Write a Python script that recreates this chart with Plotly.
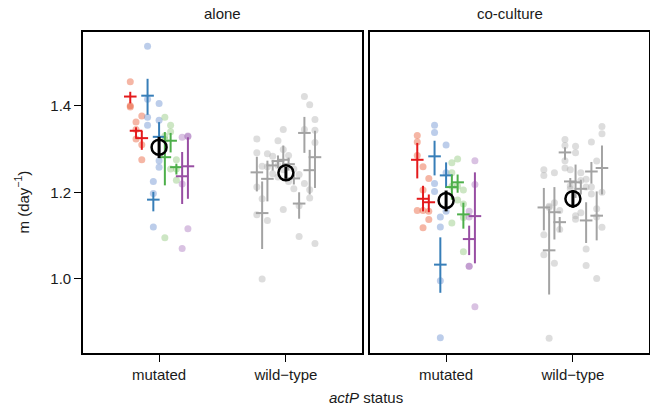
import plotly.graph_objects as go

# ---------------- data ----------------
panels = ["alone", "co-culture"]
group_labels = ["mutated", "wild\u2212type"]

# mutated clones: lineage colour for each clone
mut_lineage = ["red", "red", "red", "blue", "blue", "blue",
               "green", "green", "green", "purple", "purple"]

# --- alone, mutated ---
alone_mut_pts = [
    [1.455, 1.400, 1.397],
    [1.362, 1.345, 1.323],
    [1.376, 1.310, 1.275],
    [1.537, 1.415, 1.373, 1.355],
    [1.225, 1.197, 1.120],
    [1.405, 1.366, 1.273, 1.258],
    [1.373, 1.322, 1.330, 1.095],
    [1.355, 1.340, 1.254],
    [1.275, 1.254, 1.228],
    [1.327, 1.219, 1.070],
    [1.329, 1.330, 1.116],
]
alone_mut_mean = [1.421, 1.342, 1.325, 1.423, 1.183, 1.328, 1.281, 1.319, 1.258, 1.237, 1.260]
alone_mut_lo = [1.405, 1.324, 1.298, 1.379, 1.156, 1.294, 1.216, 1.292, 1.241, 1.173, 1.185]
alone_mut_hi = [1.432, 1.350, 1.342, 1.462, 1.201, 1.362, 1.339, 1.337, 1.266, 1.293, 1.327]

# --- alone, wild-type ---
alone_wt_pts = [
    [1.323, 1.291, 1.212, 1.148],
    [1.260, 1.185, 1.000],
    [1.289, 1.259, 1.135],
    [1.283, 1.243],
    [1.319, 1.262, 1.235],
    [1.345, 1.299, 1.252, 1.160],
    [1.285, 1.225],
    [1.254, 1.208],
    [1.241, 1.169, 1.098],
    [1.421, 1.345, 1.220],
    [1.402, 1.206, 1.187],
    [1.368, 1.343, 1.315, 1.082],
]
alone_wt_mean = [1.246, 1.152, 1.231, 1.262, 1.272, 1.275, 1.265, 1.232, 1.174, 1.337, 1.251, 1.281]
alone_wt_lo = [1.202, 1.069, 1.179, 1.250, 1.256, 1.262, 1.250, 1.218, 1.139, 1.291, 1.195, 1.210]
alone_wt_hi = [1.282, 1.225, 1.273, 1.274, 1.285, 1.308, 1.280, 1.241, 1.200, 1.374, 1.298, 1.342]

# --- co-culture, mutated ---
co_mut_pts = [
    [1.331, 1.316, 1.285, 1.158],
    [1.259, 1.205, 1.158, 1.118],
    [1.232, 1.156, 1.137],
    [1.355, 1.338, 1.220, 1.202],
    [1.143, 1.120, 0.996, 0.864],
    [1.309, 1.245, 1.156],
    [1.268, 1.245, 1.214, 1.129],
    [1.277, 1.214, 1.182],
    [1.205, 1.173, 1.142, 1.063],
    [1.156, 1.143, 1.029, 1.029],
    [1.273, 1.218, 0.936],
]
co_mut_mean = [1.275, 1.185, 1.177, 1.283, 1.033, 1.239, 1.212, 1.223, 1.149, 1.092, 1.145]
co_mut_lo = [1.232, 1.156, 1.154, 1.239, 0.968, 1.210, 1.183, 1.199, 1.116, 1.055, 1.036]
co_mut_hi = [1.314, 1.215, 1.195, 1.319, 1.096, 1.269, 1.241, 1.241, 1.176, 1.123, 1.246]

# --- co-culture, wild-type ---
co_wt_pts = [
    [1.252, 1.239, 1.102, 1.056],
    [1.168, 1.165, 0.863],
    [1.245, 1.176, 1.036],
    [1.158, 1.114],
    [1.322, 1.308, 1.273, 1.256],
    [1.252, 1.215, 1.208],
    [1.306, 1.291, 1.146, 1.138],
    [1.245, 1.227, 1.153],
    [1.230, 1.212, 1.069, 1.031],
    [1.316, 1.212, 1.196],
    [1.272, 1.162, 1.143, 1.001],
    [1.352, 1.335, 1.200, 1.119],
]
co_wt_mean = [1.165, 1.066, 1.154, 1.131, 1.292, 1.225, 1.223, 1.208, 1.135, 1.248, 1.146, 1.256]
co_wt_lo = [1.112, 0.964, 1.091, 1.108, 1.275, 1.212, 1.187, 1.195, 1.083, 1.220, 1.089, 1.195]
co_wt_hi = [1.210, 1.162, 1.212, 1.143, 1.304, 1.233, 1.264, 1.229, 1.177, 1.270, 1.202, 1.308]

# overall means per panel: [mutated, wild-type]
overall_mean = [[1.304, 1.245], [1.181, 1.185]]
overall_lo = [[1.279, 1.231], [1.156, 1.164]]
overall_hi = [[1.328, 1.259], [1.204, 1.205]]

# ---------------- styles ----------------
bar_col = {"red": "#E41A1C", "blue": "#377EB8", "green": "#4DAF4A",
           "purple": "#984EA3", "grey": "#A3A3A3"}
pt_col = {"red": "rgba(232,80,40,0.42)", "blue": "rgba(95,135,205,0.42)",
          "green": "rgba(135,195,115,0.42)", "purple": "rgba(165,110,185,0.42)",
          "grey": "rgba(175,175,175,0.42)"}

FONT = "Liberation Sans, Arial, sans-serif"
DODGE = 0.5

fig = go.Figure()

panel_data = [
    [(alone_mut_pts, alone_mut_mean, alone_mut_lo, alone_mut_hi, mut_lineage),
     (alone_wt_pts, alone_wt_mean, alone_wt_lo, alone_wt_hi, ["grey"] * len(alone_wt_pts))],
    [(co_mut_pts, co_mut_mean, co_mut_lo, co_mut_hi, mut_lineage),
     (co_wt_pts, co_wt_mean, co_wt_lo, co_wt_hi, ["grey"] * len(co_wt_pts))],
]

for p, groups in enumerate(panel_data):
    xa = "x" if p == 0 else "x2"
    ya = "y" if p == 0 else "y2"
    # points
    for g, (pts, mean, lo, hi, cols) in enumerate(groups):
        n = len(pts)
        base = g + 1
        for k in range(n):
            xpos = base + (k - (n - 1) / 2) * DODGE / n
            fig.add_trace(go.Scatter(
                x=[xpos] * len(pts[k]), y=pts[k], mode="markers",
                marker=dict(size=7, color=pt_col[cols[k]], line=dict(width=0)),
                xaxis=xa, yaxis=ya, showlegend=False, hoverinfo="y"))
    # clone means with error bars
    for g, (pts, mean, lo, hi, cols) in enumerate(groups):
        n = len(pts)
        base = g + 1
        for k in range(n):
            xpos = base + (k - (n - 1) / 2) * DODGE / n
            c = bar_col[cols[k]]
            fig.add_trace(go.Scatter(
                x=[xpos], y=[mean[k]], mode="markers",
                marker=dict(symbol="line-ew", size=9, color=c,
                            line=dict(width=2, color=c)),
                error_y=dict(type="data", symmetric=False,
                             array=[hi[k] - mean[k]], arrayminus=[mean[k] - lo[k]],
                             width=0, thickness=2, color=c),
                xaxis=xa, yaxis=ya, showlegend=False, hoverinfo="y"))
    # overall means
    for g in range(2):
        m = overall_mean[p][g]
        fig.add_trace(go.Scatter(
            x=[g + 1], y=[m], mode="markers",
            marker=dict(symbol="circle-open", size=15, color="black",
                        line=dict(width=2.5, color="black")),
            error_y=dict(type="data", symmetric=False,
                         array=[overall_hi[p][g] - m], arrayminus=[m - overall_lo[p][g]],
                         width=0, thickness=3, color="black"),
            xaxis=xa, yaxis=ya, showlegend=False, hoverinfo="y"))

W, H = 650, 410
L, R, T, B = 83, 1, 32, 57
pw = W - L - R
gap = 8
dom_w = (pw - gap) / 2 / pw

axis_common = dict(showline=True, linecolor="black", linewidth=1.6, mirror=True,
                   showgrid=False, zeroline=False, ticks="outside", ticklen=7,
                   tickwidth=1, tickcolor="black",
                   tickfont=dict(family=FONT, size=15, color="#1a1a1a"))

fig.update_layout(
    width=W, height=H,
    margin=dict(l=L, r=R, t=T, b=B, autoexpand=False),
    paper_bgcolor="white", plot_bgcolor="white",
    font=dict(family=FONT, size=15, color="#1a1a1a"),
    xaxis=dict(domain=[0, dom_w], range=[0.4, 2.6], tickvals=[1, 2],
               ticktext=group_labels, anchor="y", **axis_common),
    xaxis2=dict(domain=[1 - dom_w, 1], range=[0.4, 2.6], tickvals=[1, 2],
                ticktext=group_labels, anchor="y2", **axis_common),
    yaxis=dict(domain=[0, 1], range=[0.829, 1.570], tickvals=[1.0, 1.2, 1.4],
               ticktext=["1.0", "1.2", "1.4"], anchor="x", **axis_common),
    yaxis2=dict(domain=[0, 1], range=[0.829, 1.570], matches="y", anchor="x2",
                showticklabels=False, **{k: v for k, v in axis_common.items() if k != "ticks"},
                ticks=""),
)

ph = H - T - B
annots = [
    dict(text=panels[0], x=dom_w / 2, y=1 + 18 / ph),
    dict(text=panels[1], x=1 - dom_w / 2, y=1 + 18 / ph),
    dict(text="<i>actP</i> status", x=0.5, y=-(397 - (H - B)) / ph),
    dict(text="m (day<sup>\u22121</sup>)", x=(22 - L) / pw, y=0.5 - 10 / ph, textangle=-90),
]
for a in annots:
    fig.add_annotation(xref="paper", yref="paper", showarrow=False,
                       xanchor="center", yanchor="middle",
                       font=dict(family=FONT, size=15, color="#1a1a1a"), **a)

fig.write_html("out.html", config={"displayModeBar": False},
               post_script="document.body.style.margin='0px';document.body.style.overflow='hidden';")
